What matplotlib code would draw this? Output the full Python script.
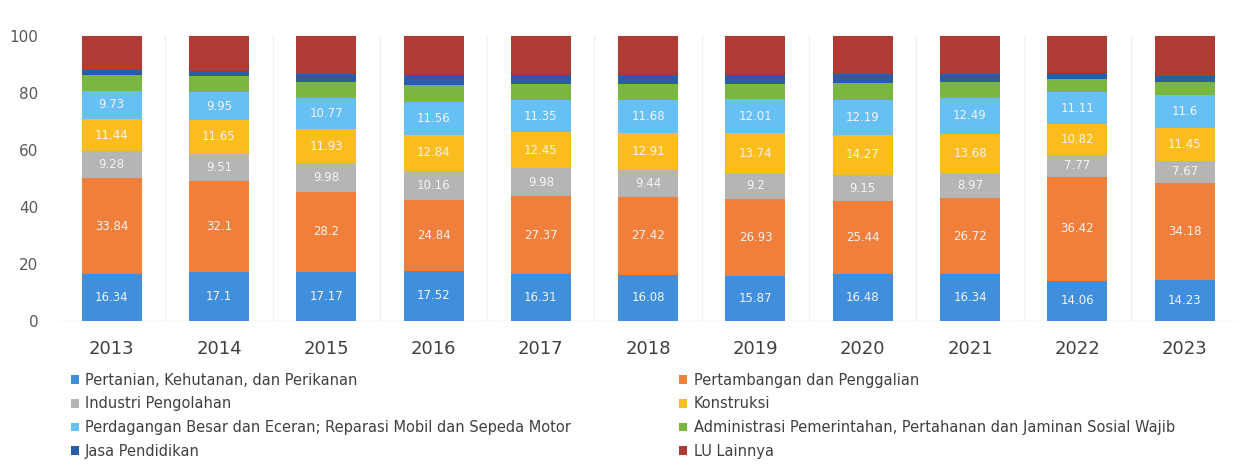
import numpy as np
import matplotlib
matplotlib.use("Agg")
import matplotlib.pyplot as plt
from matplotlib.patches import Patch

# data (persen)
years = ["2013", "2014", "2015", "2016", "2017", "2018", "2019", "2020", "2021", "2022", "2023"]
pertanian = [16.34, 17.1, 17.17, 17.52, 16.31, 16.08, 15.87, 16.48, 16.34, 14.06, 14.23]
pertambangan = [33.84, 32.1, 28.2, 24.84, 27.37, 27.42, 26.93, 25.44, 26.72, 36.42, 34.18]
industri = [9.28, 9.51, 9.98, 10.16, 9.98, 9.44, 9.2, 9.15, 8.97, 7.77, 7.67]
konstruksi = [11.44, 11.65, 11.93, 12.84, 12.45, 12.91, 13.74, 14.27, 13.68, 10.82, 11.45]
perdagangan = [9.73, 9.95, 10.77, 11.56, 11.35, 11.68, 12.01, 12.19, 12.49, 11.11, 11.6]
# tanpa label di grafik -> perkiraan
administrasi = [5.6, 5.7, 5.9, 5.9, 5.7, 5.6, 5.5, 5.9, 5.5, 4.6, 4.7]
pendidikan = [1.8, 1.5, 2.8, 3.3, 3.1, 3.0, 3.0, 3.1, 2.8, 2.0, 2.2]
lainnya = [11.97, 12.49, 13.25, 13.85, 13.74, 13.87, 13.75, 13.46, 13.5, 13.22, 13.97]

series = [
    ("Pertanian, Kehutanan, dan Perikanan", pertanian, "#3f8fdc", True),
    ("Pertambangan dan Penggalian", pertambangan, "#ef7f3a", True),
    ("Industri Pengolahan", industri, "#b5b5b5", True),
    ("Konstruksi", konstruksi, "#fbbd1e", True),
    ("Perdagangan Besar dan Eceran; Reparasi Mobil dan Sepeda Motor", perdagangan, "#66c0f4", True),
    ("Administrasi Pemerintahan, Pertahanan dan Jaminan Sosial Wajib", administrasi, "#7ab640", False),
    ("Jasa Pendidikan", pendidikan, "#2b5ca8", False),
    ("LU Lainnya", lainnya, "#b03b35", False),
]

fig = plt.figure(figsize=(12.45, 4.65), dpi=100)
ax = fig.add_axes([0.0466, 0.31, 0.948, 0.613])

x = np.arange(len(years))
bottom = np.zeros(len(years))
for name, vals, color, show in series:
    bars = ax.bar(x, vals, width=0.56, bottom=bottom, color=color, label=name, zorder=2)
    if show:
        ax.bar_label(bars, labels=[str(v) for v in vals], label_type="center",
                     color="#f4f4f4", fontsize=8.5)
    bottom += np.array(vals)

# garis pemisah antar kategori
for b in np.arange(0.5, len(years) - 1, 1):
    ax.axvline(b, color="#f0f0f0", lw=1, zorder=0)
ax.axhline(0, color="#e2e2e2", lw=1, zorder=1)

ax.set_xlim(-0.5, len(years) - 0.5)
ax.set_ylim(0, 100)
ax.set_yticks([0, 20, 40, 60, 80, 100])
ax.set_xticks(x)
ax.set_xticklabels(years)
ax.tick_params(axis="x", length=0, pad=14, labelsize=13, labelcolor="#404040")
ax.tick_params(axis="y", length=0, pad=14, labelsize=11, labelcolor="#595959")
for s in ax.spines.values():
    s.set_visible(False)

# legenda 2 kolom
order = [0, 2, 4, 6, 1, 3, 5, 7]
handles = [Patch(facecolor=series[i][2]) for i in order]
labels = [series[i][0] for i in order]
fig.legend(handles, labels, ncol=2, loc="upper left", bbox_to_anchor=(0.052, 0.211),
           frameon=False, fontsize=10.5, handlelength=0.55, handleheight=0.55,
           handletextpad=0.45, columnspacing=7.4, labelspacing=0.6,
           labelcolor="#404040", borderaxespad=0)

fig.savefig("out.png", dpi=100, facecolor="white")
